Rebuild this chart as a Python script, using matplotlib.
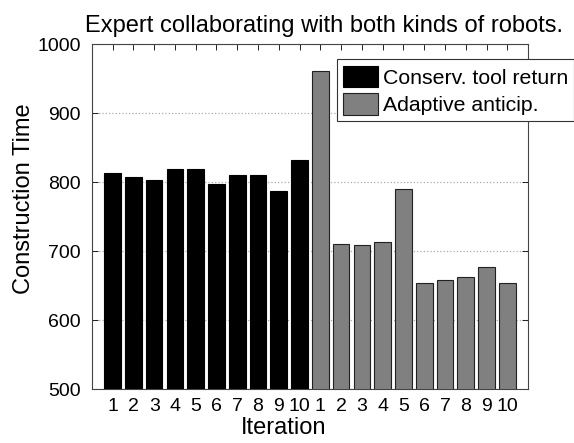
import matplotlib.pyplot as plt
import numpy as np

plt.rcParams['font.family'] = ['Liberation Sans', 'DejaVu Sans']

# Temps de construction par itération
conserv = [813, 808, 803, 820, 820, 798, 810, 810, 788, 833]
adaptive = [961, 711, 709, 714, 791, 654, 658, 663, 678, 654]
iter_labels = [str(i) for i in range(1, 11)] * 2

fig = plt.figure(figsize=(5.74, 4.43), dpi=100)
ax = fig.add_axes([0.160, 0.121, 0.760, 0.779])

x = np.arange(1, 21)
ax.bar(x[:10], conserv, width=0.8, color='black', edgecolor='black',
       linewidth=0.8, label='Conserv. tool return', zorder=3)
ax.bar(x[10:], adaptive, width=0.8, color='#808080', edgecolor='#222222',
       linewidth=0.8, label='Adaptive anticip.', zorder=3)

ax.set_xlim(0, 21)
ax.set_ylim(500, 1000)
ax.set_xticks(x)
ax.set_xticklabels(iter_labels, fontsize=14)
ax.set_yticks(np.arange(500, 1001, 100))
ax.tick_params(axis='y', labelsize=14, pad=8)
ax.tick_params(axis='x', pad=6)
ax.tick_params(direction='in', top=True, right=True, length=4, width=0.6)
ax.yaxis.grid(True, linestyle=':', color='#aaaaaa', linewidth=0.9, zorder=0)

for s in ax.spines.values():
    s.set_linewidth(0.8)
    s.set_color('#444444')

ax.set_title('Expert collaborating with both kinds of robots.', fontsize=17,
             x=0.532, pad=9)
ax.set_xlabel('Iteration', fontsize=17)
ax.set_ylabel('Construction Time', fontsize=17)
ax.xaxis.set_label_coords(0.44, -0.08)
ax.yaxis.set_label_coords(-0.13, 0.552)

leg = ax.legend(loc='upper left', bbox_to_anchor=(0.562, 0.957), fontsize=15.3,
                fancybox=False, framealpha=1, edgecolor='#333333',
                handlelength=1.65, handleheight=1.2, borderpad=0.3,
                labelspacing=0.25, handletextpad=0.2, borderaxespad=0)
leg.get_frame().set_linewidth(0.8)

fig.savefig('out.png', dpi=100)
